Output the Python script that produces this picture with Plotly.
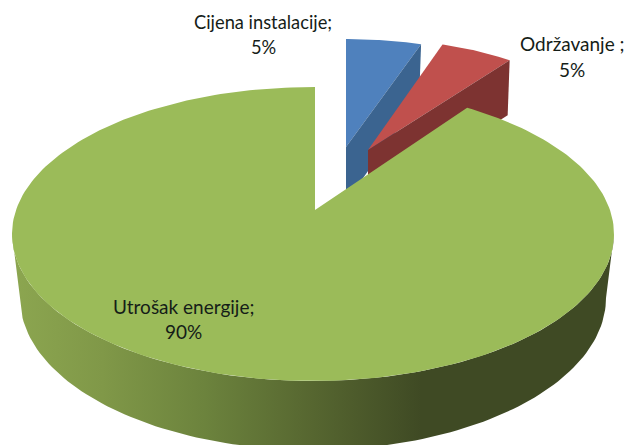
import numpy as np
import plotly.graph_objects as go

categories = ["Cijena instalacije", "Održavanje", "Utrošak energije"]
values = [5, 5, 90]
label_suffixes = ["5%", "5%", "90%"]
top_colors = ["#4F81BD", "#C0504D", "#9BBB59"]
side_colors = ["#3B6490", "#7D3331", "#9BBB59"]

W, H = 627, 445
DEPTH = 55
shares = np.cumsum([0] + values) / sum(values) * 2 * np.pi


def wedge_arc(apex, rx, ry, a0, a1, n=40):
    t = np.linspace(a0, a1, n)
    return apex[0] + rx * np.sin(t), apex[1] - ry * np.cos(t)


def ray_to_ellipse(apex, center, rx, ry, angles):
    xs, ys = [], []
    for a in angles:
        dx, dy = rx * np.sin(a), -ry * np.cos(a)
        ox, oy = (apex[0] - center[0]) / rx, (apex[1] - center[1]) / ry
        ux, uy = dx / rx, dy / ry
        A = ux ** 2 + uy ** 2
        B = 2 * (ox * ux + oy * uy)
        C = ox ** 2 + oy ** 2 - 1
        s = (-B + np.sqrt(B ** 2 - 4 * A * C)) / (2 * A)
        xs.append(apex[0] + s * dx)
        ys.append(apex[1] + s * dy)
    return np.array(xs), np.array(ys)


def poly(x, y, color=None, **kw):
    args = dict(x=list(x), y=list(y), mode="lines", fill="toself",
                line=dict(width=0), hoverinfo="skip", showlegend=False)
    if color:
        args["fillcolor"] = color
    args.update(kw)
    return go.Scatter(**args)


fig = go.Figure()

# detached wedges
apexes = [(346, 147), (368, 150)]
radii = [(243, 108), (241, 111)]
for i in range(2):
    ax, ay = apexes[i]
    rx, ry = radii[i]
    a0, a1 = shares[i], shares[i + 1]
    x, y = wedge_arc((ax, ay), rx, ry, a0, a1)
    fig.add_trace(poly([ax, *x, ax], [ay, *y, ay], top_colors[i]))
    ex, ey = x[-1], y[-1]
    fig.add_trace(poly([ax, ex, ex - 2, ax, ax], [ay, ey, ey + DEPTH, ay + DEPTH, ay], side_colors[i]))

# big slice
c_top, rx_top, ry_top = (313, 234), 301, 147
c_bot, rx_bot, ry_bot = (313, 298), 293, 152
t = np.linspace(0, np.pi, 120)
sx = np.r_[c_top[0] + rx_top * np.cos(t), c_bot[0] + rx_bot * np.cos(t[::-1])]
sy = np.r_[c_top[1] + ry_top * np.sin(t), c_bot[1] + ry_bot * np.sin(t[::-1])]
fig.add_trace(go.Scatter(
    x=list(sx) + [sx[0]], y=list(sy) + [sy[0]], mode="lines", fill="toself",
    line=dict(width=0), hoverinfo="skip", showlegend=False,
    fillgradient=dict(type="horizontal", start=12, stop=614, colorscale=[
        [0.0, "#8CA650"], [0.15, "#809848"], [0.32, "#6C833D"],
        [0.5, "#566630"], [0.68, "#3F4A24"], [1.0, "#3F4A24"]]),
))
apex = (315, 210)
ang = np.linspace(shares[2], shares[3], 240)
gx, gy = ray_to_ellipse(apex, c_top, rx_top, ry_top, ang)
fig.add_trace(poly([apex[0], *gx, apex[0]], [apex[1], *gy, apex[1]], top_colors[2]))

# labels
label_pos = [(263, 22, 47), (572, 43, 69), (183, 306, 331)]
seps = [";", " ;", ";"]
font_sizes = [18.3, 19, 19]
for name, sep, pct, (lx, y1, y2), fs in zip(categories, seps, label_suffixes, label_pos, font_sizes):
    for txt, ly in ((name + sep, y1), (pct, y2)):
        fig.add_annotation(x=lx, y=ly, text=txt, showarrow=False,
                           font=dict(family="Lato", size=fs, color="#151d18"),
                           xanchor="center", yanchor="middle")

fig.update_layout(
    width=W, height=H, margin=dict(l=0, r=0, t=0, b=0),
    paper_bgcolor="white", plot_bgcolor="white", showlegend=False,
    xaxis=dict(range=[0, W], visible=False, fixedrange=True),
    yaxis=dict(range=[H, 0], visible=False, fixedrange=True),
)
fig.write_html("out.html", config={"displayModeBar": False},
               post_script="document.body.style.margin='0';document.body.style.overflow='hidden';")
